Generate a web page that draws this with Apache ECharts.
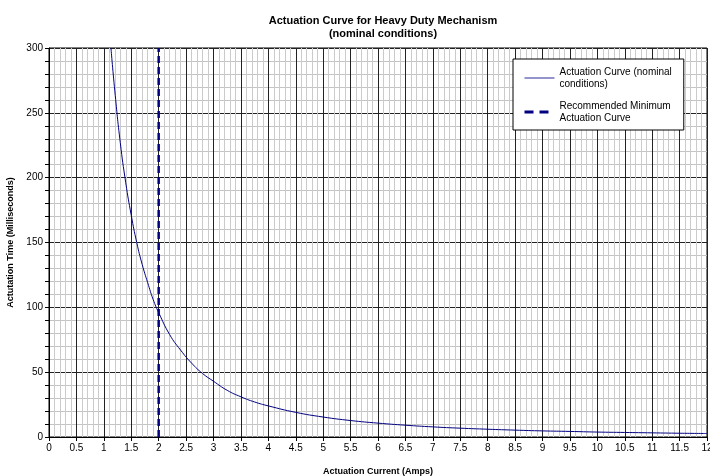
<!DOCTYPE html>
<html>
<head>
<meta charset="utf-8">
<script src="https://cdn.jsdelivr.net/npm/echarts@6/dist/echarts.min.js"></script>
<style>
html, body { margin: 0; padding: 0; background: #fff; }
#chart { width: 710px; height: 476px; }
</style>
</head>
<body>
<div id="chart"></div>
<script>
// actuation current (A) and time (ms)
var currentAmps = [1.13, 1.2, 1.3, 1.4, 1.5, 1.6, 1.7, 1.8, 1.9, 2.0, 2.2, 2.4, 2.6, 2.8, 3.0, 3.25, 3.5, 3.75, 4.0,
    4.5, 5.0, 5.5, 6.0, 6.5, 7.0, 7.5, 8.0, 8.5, 9.0, 9.5, 10, 10.5, 11, 11.5, 12];
var timeMs = [300, 267, 227, 196, 171, 150, 133, 119, 106, 96, 79, 67, 57, 49, 43, 36, 31, 27, 24,
    19, 15.4, 12.7, 10.7, 9.1, 7.8, 6.8, 6.0, 5.3, 4.7, 4.3, 3.8, 3.5, 3.2, 2.9, 2.7];

// recommended minimum line
var minCurrentX = [2, 2];
var minCurrentY = [0, 300];

var seriesNames = ['Actuation Curve (nominal conditions)', 'Recommended Minimum Actuation Curve'];
var legendText = {};
legendText[seriesNames[0]] = 'Actuation Curve (nominal\nconditions)';
legendText[seriesNames[1]] = 'Recommended Minimum\nActuation Curve';

var font = 'Liberation Sans, Arial, sans-serif';

function zip(xs, ys) {
    return xs.map(function (x, i) { return [x, ys[i]]; });
}

var option = {
    backgroundColor: '#fff',
    animation: false,
    textStyle: { fontFamily: font },
    title: {
        text: 'Actuation Curve for Heavy Duty Mechanism\n(nominal conditions)',
        left: 378,
        textAlign: 'center',
        top: 9,
        textStyle: { fontSize: 11, fontWeight: 'bold', color: '#000', lineHeight: 13, fontFamily: font }
    },
    legend: {
        orient: 'vertical',
        left: 513,
        top: 59,
        width: 179,
        padding: [7, 12, 6, 10],
        backgroundColor: '#fff',
        borderColor: '#000',
        borderWidth: 1,
        itemWidth: 30,
        itemHeight: 10,
        itemGap: 10,
        itemStyle: { opacity: 0 },
        data: [
            { name: seriesNames[0], lineStyle: { width: 1, color: '#2a2a9a' } },
            { name: seriesNames[1], lineStyle: { width: 3, type: [9, 6] } }
        ],
        formatter: function (name) { return legendText[name]; },
        textStyle: { fontSize: 10, color: '#000', lineHeight: 12, fontFamily: font }
    },
    grid: {
        left: 49,
        right: 3,
        top: 48,
        bottom: 39,
        outerBoundsMode: 'none',
        show: true,
        borderColor: '#000',
        borderWidth: 1
    },
    xAxis: {
        type: 'value',
        min: 0,
        max: 12,
        interval: 0.5,
        name: 'Actuation Current (Amps)',
        nameLocation: 'middle',
        nameGap: 30,
        nameTextStyle: { fontSize: 9, fontWeight: 'bold', color: '#000', fontFamily: font },
        axisLine: { show: true, lineStyle: { color: '#000', width: 1 } },
        axisTick: { show: true, length: 4, lineStyle: { color: '#000' } },
        axisLabel: { fontSize: 10, color: '#000', margin: 6, fontFamily: font },
        splitLine: { show: true, lineStyle: { color: '#222', width: 1 } },
        minorTick: { show: false, splitNumber: 5 },
        minorSplitLine: { show: true, lineStyle: { color: '#cbcbcb', width: 1 } }
    },
    yAxis: {
        type: 'value',
        min: 0,
        max: 300,
        interval: 50,
        name: 'Actutation Time (Milliseconds)',
        nameLocation: 'middle',
        nameGap: 34,
        nameTextStyle: { fontSize: 9, fontWeight: 'bold', color: '#000', fontFamily: font },
        axisLine: { show: true, lineStyle: { color: '#000', width: 1 } },
        axisTick: { show: true, length: 4, lineStyle: { color: '#000' } },
        axisLabel: { fontSize: 10, color: '#000', margin: 6, fontFamily: font },
        splitLine: { show: true, lineStyle: { color: '#222', width: 1 } },
        minorTick: { show: true, splitNumber: 5, length: 4, lineStyle: { color: '#000' } },
        minorSplitLine: { show: true, lineStyle: { color: '#c4c4c4', width: 1 } }
    },
    series: [
        {
            name: seriesNames[0],
            type: 'line',
            smooth: true,
            symbol: 'none',
            z: 5,
            lineStyle: { color: '#000080', width: 1 },
            itemStyle: { color: '#000080' },
            data: zip(currentAmps, timeMs)
        },
        {
            name: seriesNames[1],
            type: 'line',
            symbol: 'none',
            z: 4,
            lineStyle: { color: '#000080', width: 2.5, type: [7, 4] },
            itemStyle: { color: '#000080' },
            data: zip(minCurrentX, minCurrentY)
        }
    ]
};

var myChart = echarts.init(document.getElementById('chart'));
myChart.setOption(option);
</script>
</body>
</html>
